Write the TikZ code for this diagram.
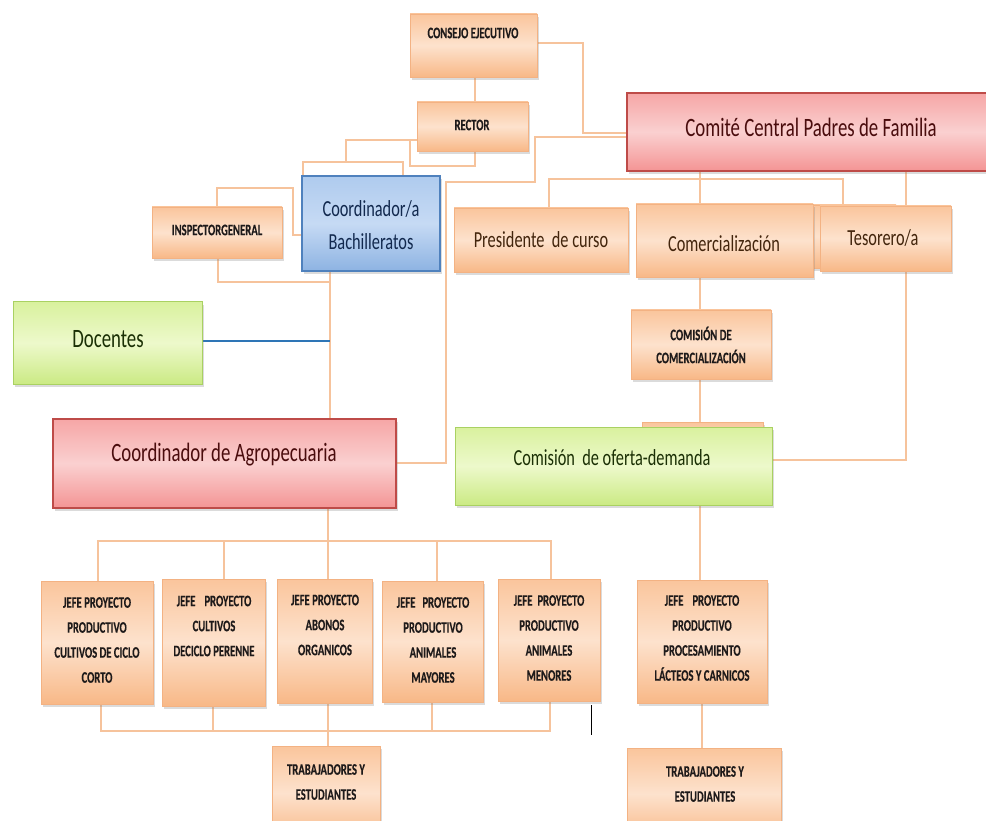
\documentclass[tikz,border=0pt]{standalone}
\usepackage{fontspec}
\setmainfont{Carlito}[FakeStretch=0.71]
\newfontfamily\smfamily{Carlito}[FakeStretch=0.665,FakeBold=0.25]
\usetikzlibrary{shadows,fit,backgrounds}
\definecolor{otop}{HTML}{FAC59C}
\definecolor{omid}{HTML}{FDE2CD}
\definecolor{obot}{HTML}{F8B887}
\definecolor{obord}{HTML}{F3B283}
\definecolor{rtop}{HTML}{F6A6A6}
\definecolor{rmid}{HTML}{FAD0D0}
\definecolor{rbot}{HTML}{F49494}
\definecolor{rbord}{HTML}{BE4B48}
\definecolor{gtop}{HTML}{D9F19E}
\definecolor{gmid}{HTML}{EDF9CB}
\definecolor{gbot}{HTML}{CBEA84}
\definecolor{gbord}{HTML}{A9D162}
\definecolor{btop}{HTML}{AFCBEE}
\definecolor{bmid}{HTML}{C6DAF4}
\definecolor{bbot}{HTML}{8DB3E2}
\definecolor{bbord}{HTML}{4F81BD}
\definecolor{lineo}{HTML}{F6C39C}
\definecolor{lineb}{HTML}{2E75B6}
\definecolor{tred}{HTML}{4A0C0D}
\definecolor{tblue}{HTML}{12294E}
\definecolor{tgreen}{HTML}{1B3005}
\definecolor{tbrown}{HTML}{43250C}
\definecolor{tsmall}{HTML}{1E1A1A}
\newcommand\fbig{\fontsize{26.5}{30}\selectfont}
\newcommand\fmed{\fontsize{23}{33}\selectfont}
\newcommand\fsm{\smfamily\bfseries\fontsize{16}{25}\selectfont}
\newcommand\fsmb{\smfamily\bfseries\fontsize{16}{23}\selectfont}
\begin{document}
\begin{tikzpicture}[x=1pt,y=-1pt,
  shd/.style={drop shadow={opacity=0.28,shadow xshift=1.5pt,shadow yshift=-3pt}},
  obox/.style={draw=obord,line width=0.8pt,top color=otop,bottom color=obot,middle color=omid,inner sep=0pt,shd},
  rbox/.style={draw=rbord,line width=1.2pt,top color=rtop,bottom color=rbot,middle color=rmid,inner sep=0pt,shd},
  gbox/.style={draw=gbord,line width=1pt,top color=gtop,bottom color=gbot,middle color=gmid,inner sep=0pt,shd},
  bbox/.style={draw=bbord,line width=1.2pt,top color=btop,bottom color=bbot,middle color=bmid,inner sep=0pt,shd},
  conn/.style={draw=lineo,line width=1.7pt},
  smalltxt/.style={font=\fsm,text=tsmall,align=center,inner sep=0pt},
  smalltxtb/.style={font=\fsmb,text=tsmall,align=center,inner sep=0pt},
  medtxt/.style={font=\fmed,align=center,inner sep=0pt},
  bigtxt/.style={font=\fbig,align=center,inner sep=0pt}]
\useasboundingbox (0,0) rectangle (986,821);
\clip (0,0) rectangle (986,821);

% ---------- boxes ----------
\node[obox,fit={(410,14) (537,77)}] (consejo) {};
\node[smalltxt] (consejo-t) at (473,33) {CONSEJO EJECUTIVO};
\node[obox,fit={(417,102) (528,151)}] (rector) {};
\node[smalltxt] (rector-t) at (472,125) {RECTOR};
\node[rbox,fit={(627,93) (992,171)}] (comite) {};
\node[bigtxt,text=tred] (comite-t) at (811,127) {Comité Central Padres de Familia};
\node[bbox,fit={(302,176) (440,271)}] (coordbach) {};
\node[medtxt,text=tblue] (coordbach-t) at (371,225) {Coordinador/a\\Bachilleratos};
\node[obox,fit={(152,207) (282,258)}] (inspector) {};
\node[smalltxt] (inspector-t) at (217,230) {INSPECTORGENERAL};
\node[obox,fit={(454,208) (628,272)}] (presidente) {};
\node[medtxt,text=tbrown] (presidente-t) at (541,240) {Presidente\ \ de curso};
\node[obox,fit={(790,205) (896,268)}] (hidden1) {};
\node[obox,fit={(636,204) (813,277)}] (comercial) {};
\node[medtxt,text=tbrown] (comercial-t) at (724,244) {Comercialización};
\node[obox,fit={(820,206) (951,271)}] (tesorero) {};
\node[medtxt,text=tbrown] (tesorero-t) at (883,238) {Tesorero/a};
\node[obox,fit={(631,310) (771,379)}] (comcom) {};
\node[smalltxtb] (comcom-t) at (701,345) {COMISIÓN DE\\COMERCIALIZACIÓN};
\node[obox,fit={(642,422) (763,470)}] (hidden2) {};
\node[gbox,fit={(455,427) (772,505)}] (oferta) {};
\node[medtxt,text=tgreen] (oferta-t) at (612,458) {Comisión\ \ de oferta-demanda};
\node[gbox,fit={(13,302) (202,384)}] (docentes) {};
\node[bigtxt,text=tgreen] (docentes-t) at (108,339) {Docentes};
\node[rbox,fit={(53,419) (396,508)}] (agro) {};
\node[bigtxt,text=tred] (agro-t) at (224,455) {Coordinador de Agropecuaria};

\node[obox,fit={(41,581) (153,704)}] (b1) {};
\node[smalltxt] (b1-t) at (97,640) {JEFE PROYECTO\\PRODUCTIVO\\CULTIVOS DE CICLO\\CORTO};
\node[obox,fit={(162,579) (265,706)}] (b2) {};
\node[smalltxt] (b2-t) at (214,626) {JEFE\hspace{9pt}PROYECTO\\CULTIVOS\\DECICLO PERENNE};
\node[obox,fit={(277,579) (372,703)}] (b3) {};
\node[smalltxt] (b3-t) at (325,625) {JEFE PROYECTO\\ABONOS\\ORGANICOS};
\node[obox,fit={(382,581) (483,702)}] (b4) {};
\node[smalltxt] (b4-t) at (433,640) {JEFE\hspace{7pt}PROYECTO\\PRODUCTIVO\\ANIMALES\\MAYORES};
\node[obox,fit={(498,579) (600,701)}] (b5) {};
\node[smalltxt] (b5-t) at (549,638) {JEFE\hspace{5pt}PROYECTO\\PRODUCTIVO\\ANIMALES\\MENORES};
\node[obox,fit={(637,580) (767,703)}] (b6) {};
\node[smalltxt] (b6-t) at (702,638) {JEFE\hspace{9pt}PROYECTO\\PRODUCTIVO\\PROCESAMIENTO\\LÁCTEOS Y CARNICOS};
\node[obox,fit={(272,746) (380,840)}] (t1) {};
\node[smalltxt] (t1-t) at (326,782) {TRABAJADORES Y\\ESTUDIANTES};
\node[obox,fit={(627,748) (781,840)}] (t2) {};
\node[smalltxt] (t2-t) at (705,784) {TRABAJADORES Y\\ESTUDIANTES};

\coordinate (cur1) at (591,705);
\coordinate (cur2) at (591,735);
\draw[black,line width=1pt] (cur1) -- (cur2);

% ---------- connectors ----------
\begin{pgfonlayer}{background}
\fill[white] (0,0) rectangle (986,821);
\draw[conn] (consejo.east |- 0,43) -- (583,43) -- (583,133) -- (comite.west |- 0,133);
\draw[conn] (consejo.south -| 475,0) -- (rector.north -| 475,0);
\draw[conn] (rector.west |- 0,140) -| (346,162);
\draw[conn] (rector.south -| 475,0) |- (410,166) -- (410,140);
\draw[conn] (coordbach.north -| 303,0) |- (403,162) -- (coordbach.north -| 403,0);
\draw[conn] (comite.west |- 0,137) -- (535,137) -- (535,182) -- (446,182) -- (446,463) -- (agro.east |- 0,463);
\draw[conn] (presidente.north -| 549,0) |- (843,179) -- (hidden1.north -| 843,0);
\draw[conn] (comite.south -| 700,0) -- (comercial.north -| 700,0);
\draw[conn] (comite.south -| 906,0) -- (tesorero.north -| 906,0);
\draw[conn] (comercial.south -| 700,0) -- (comcom.north -| 700,0);
\draw[conn] (comcom.south -| 700,0) -- (hidden2.north -| 700,0);
\draw[conn] (tesorero.south -| 906,0) |- (oferta.east |- 0,460);
\draw[conn] (inspector.north -| 217,0) |- (293,188) |- (coordbach.west |- 0,235);
\draw[conn] (inspector.south -| 218,0) |- (330,282);
\draw[conn] (coordbach.south -| 330,0) -- (agro.north -| 330,0);
\draw[draw=lineb,line width=1.5pt] (docentes.east |- 0,341) -- (330,341);
\draw[conn] (agro.south -| 328,0) -- (328,541);
\draw[conn] (b1.north -| 98,0) |- (551,541) -- (b5.north -| 551,0);
\draw[conn] (b2.north -| 224,0) -- (224,541);
\draw[conn] (b3.north -| 328,0) -- (328,541);
\draw[conn] (b4.north -| 437,0) -- (437,541);
\draw[conn] (b1.south -| 101,0) |- (550,731) -- (b5.south -| 550,0);
\draw[conn] (b2.south -| 213,0) -- (213,731);
\draw[conn] (b4.south -| 432,0) -- (432,731);
\draw[conn] (b3.south -| 328,0) -- (t1.north -| 328,0);
\draw[conn] (oferta.south -| 700,0) -- (b6.north -| 700,0);
\draw[conn] (b6.south -| 702,0) -- (t2.north -| 702,0);
\end{pgfonlayer}
\end{tikzpicture}
\end{document}
